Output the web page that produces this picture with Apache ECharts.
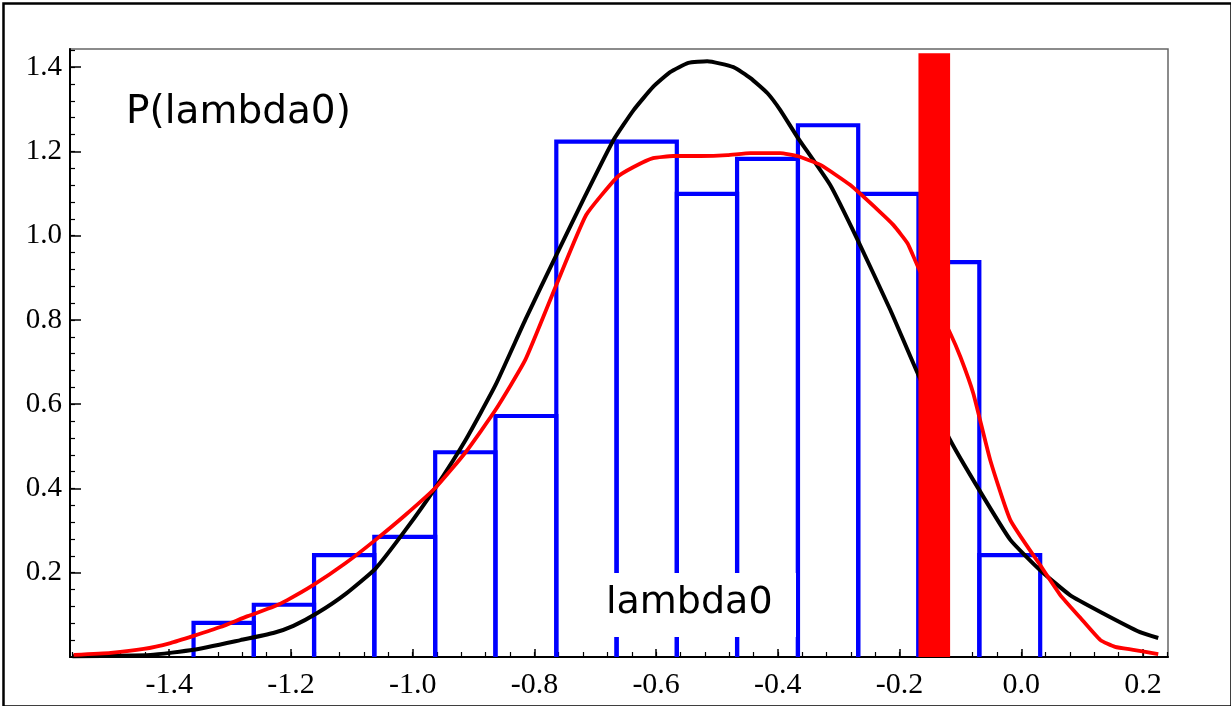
<!DOCTYPE html>
<html>
<head>
<meta charset="utf-8">
<title>P(lambda0)</title>
<script src="https://cdn.jsdelivr.net/npm/echarts@6/dist/echarts.min.js"></script>
<style>
  html, body { margin: 0; padding: 0; background: #fff; }
  #main { width: 1231px; height: 706px; }
</style>
</head>
<body>
<div id="main"></div>
<script>
// histogram bins (edges + heights)
var binEdges = [-1.360, -1.261, -1.162, -1.063, -0.963, -0.864, -0.764, -0.665,
                -0.566, -0.467, -0.367, -0.268, -0.169, -0.069, 0.031];
var binHeights = [0.081, 0.124, 0.242, 0.285, 0.486, 0.572, 1.223, 1.223,
                  1.099, 1.182, 1.262, 1.099, 0.937, 0.242];

// black curve
var blackX = [-1.559, -1.431, -1.360, -1.283, -1.229, -1.196, -1.156, -1.110, -1.061, -1.012, -0.963,
              -0.913, -0.864, -0.815, -0.764, -0.716, -0.670, -0.637, -0.605, -0.577, -0.547,
              -0.516, -0.473, -0.445, -0.417, -0.396, -0.368, -0.314, -0.269, -0.215, -0.169,
              -0.117, -0.069, -0.018, 0.031, 0.080, 0.130, 0.195, 0.225];
var blackY = [0.002, 0.005, 0.017, 0.040, 0.057, 0.074, 0.105, 0.150, 0.210, 0.301, 0.401,
              0.515, 0.645, 0.800, 0.954, 1.096, 1.227, 1.298, 1.353, 1.388, 1.410,
              1.414, 1.400, 1.374, 1.338, 1.298, 1.234, 1.120, 0.990, 0.823, 0.669,
              0.515, 0.396, 0.278, 0.206, 0.147, 0.107, 0.059, 0.045];

// red curve
var redX = [-1.557, -1.496, -1.442, -1.398, -1.360, -1.316, -1.271, -1.229, -1.206, -1.163,
            -1.110, -1.061, -1.012, -0.963, -0.913, -0.864, -0.815, -0.764, -0.715, -0.664,
            -0.637, -0.605, -0.572, -0.527, -0.483, -0.445, -0.396, -0.368, -0.330, -0.281,
            -0.232, -0.210, -0.187, -0.171, -0.117, -0.100, -0.079, -0.051, -0.018, 0.031,
            0.064, 0.097, 0.130, 0.154, 0.184, 0.225];
var redY = [0.005, 0.010, 0.019, 0.033, 0.050, 0.071, 0.097, 0.119, 0.135, 0.171,
            0.223, 0.278, 0.337, 0.401, 0.486, 0.586, 0.705, 0.883, 1.049, 1.139,
            1.163, 1.184, 1.189, 1.189, 1.191, 1.196, 1.196, 1.189, 1.168, 1.120,
            1.056, 1.025, 0.982, 0.930, 0.769, 0.712, 0.626, 0.467, 0.325, 0.218,
            0.147, 0.093, 0.040, 0.024, 0.017, 0.007];

// red marker band
var bandX = [-0.169, -0.117];
var bandHeight = 1.433;

var xTicks = [-1.4, -1.2, -1.0, -0.8, -0.6, -0.4, -0.2, 0.0, 0.2];
var yTicks = [0.2, 0.4, 0.6, 0.8, 1.0, 1.2, 1.4];

var xMin = -1.563, xMax = 0.241;
var yMin = 0, yMax = 1.443;

function minorTicks(lo, hi, step) {
  var out = [];
  for (var v = Math.ceil(lo / step - 1e-6) * step; v <= hi + 1e-9; v += step) {
    out.push(Math.round(v * 1000) / 1000);
  }
  return out;
}

function pairs(xs, ys) {
  return xs.map(function (x, i) { return [x, ys[i]]; });
}

var histData = binHeights.map(function (h, i) {
  return [binEdges[i], binEdges[i + 1], h];
});

var serif = 'Liberation Serif';

var chart = echarts.init(document.getElementById('main'));

chart.setOption({
  animation: false,
  backgroundColor: '#fff',
  grid: {
    left: 70, right: 63, top: 49, bottom: 49,
    show: true, borderColor: '#666', borderWidth: 1.5
  },
  xAxis: [
    {
      type: 'value', min: xMin, max: xMax, position: 'bottom',
      axisLine: { onZero: false, lineStyle: { color: '#000', width: 2 } },
      axisTick: { inside: true, length: 8, customValues: xTicks, lineStyle: { color: '#000', width: 1.5 } },
      axisLabel: {
        customValues: xTicks, margin: 13, fontSize: 30,
        fontFamily: serif, color: '#000',
        formatter: function (v) { return v.toFixed(1); }
      },
      splitLine: { show: false }
    },
    {
      type: 'value', min: xMin, max: xMax, position: 'bottom',
      axisLine: { show: false, onZero: false },
      axisTick: { inside: true, length: 5, customValues: minorTicks(xMin, xMax, 0.04), lineStyle: { color: '#000', width: 1.2 } },
      axisLabel: { show: false },
      splitLine: { show: false }
    }
  ],
  yAxis: [
    {
      type: 'value', min: yMin, max: yMax, position: 'left',
      axisLine: { show: true, onZero: false, lineStyle: { color: '#000', width: 2 } },
      axisTick: { show: true, inside: true, length: 11, customValues: yTicks, lineStyle: { color: '#000', width: 1.5 } },
      axisLabel: {
        customValues: yTicks, margin: 8, fontSize: 29,
        fontFamily: serif, color: '#000',
        formatter: function (v) { return v.toFixed(1); }
      },
      splitLine: { show: false }
    },
    {
      type: 'value', min: yMin, max: yMax, position: 'left',
      axisLine: { show: false, onZero: false },
      axisTick: { show: true, inside: true, length: 5, customValues: minorTicks(0.04, yMax, 0.04), lineStyle: { color: '#000', width: 1.2 } },
      axisLabel: { show: false },
      splitLine: { show: false }
    }
  ],
  graphic: [
    {
      type: 'rect', left: 1, top: 1, z: 100, silent: true,
      shape: { width: 1228, height: 703 },
      style: { fill: 'none', stroke: '#000', lineWidth: 2.5 }
    },
    {
      type: 'rect', left: 599, top: 573, z: 50,
      shape: { width: 197, height: 64 },
      style: { fill: '#fff' }
    },
    {
      type: 'text', left: 606, top: 584, z: 51,
      style: { text: 'lambda0', fontFamily: 'DejaVu Sans', fontSize: 38, fill: '#000' }
    },
    {
      type: 'text', left: 126, top: 93, z: 51,
      style: { text: 'P(lambda0)', fontFamily: 'DejaVu Sans', fontSize: 39, fill: '#000' }
    }
  ],
  series: [
    {
      type: 'custom',
      name: 'hist',
      data: histData,
      z: 2,
      renderItem: function (params, api) {
        var p0 = api.coord([api.value(0), 0]);
        var p1 = api.coord([api.value(0), api.value(2)]);
        var p2 = api.coord([api.value(1), api.value(2)]);
        var p3 = api.coord([api.value(1), 0]);
        return {
          type: 'polyline',
          shape: { points: [p0, p1, p2, p3] },
          style: { fill: 'none', stroke: '#0000ff', lineWidth: 4.2, lineJoin: 'miter' }
        };
      }
    },
    {
      type: 'line', name: 'black', z: 3,
      data: pairs(blackX, blackY),
      showSymbol: false, smooth: 0.15,
      lineStyle: { color: '#000', width: 4 }
    },
    {
      type: 'line', name: 'red', z: 4,
      data: pairs(redX, redY),
      showSymbol: false, smooth: 0.15,
      lineStyle: { color: '#ff0000', width: 3.8 }
    },
    {
      type: 'custom',
      name: 'band',
      data: [[bandX[0], bandX[1], bandHeight]],
      z: 5,
      renderItem: function (params, api) {
        var a = api.coord([api.value(0), api.value(2)]);
        var b = api.coord([api.value(1), 0]);
        return {
          type: 'rect',
          shape: { x: a[0], y: a[1], width: b[0] - a[0], height: b[1] - a[1] },
          style: { fill: '#ff0000' }
        };
      }
    }
  ]
});
</script>
</body>
</html>
